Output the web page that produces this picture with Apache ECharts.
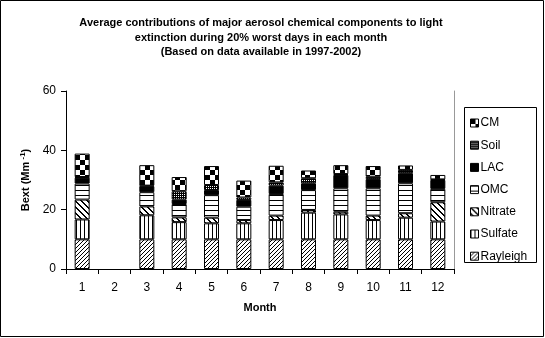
<!DOCTYPE html>
<html><head><meta charset="utf-8">
<script src="https://cdn.jsdelivr.net/npm/echarts@6/dist/echarts.min.js"></script>
<style>html,body{margin:0;padding:0;background:#fff}#c{width:545px;height:338px}</style>
</head><body><div id="c"></div>
<script>
const months = ['1','2','3','4','5','6','7','8','9','10','11','12'];
const yTicks = [0, 20, 40, 60];
const rayleigh = [10, '-', 10, 10, 10, 10, 10, 10, 10, 10, 10, 10];
const sulfate  = [6.7, '-', 8.1, 5.8, 5.4, 5.4, 6.5, 9.0, 8.4, 6.5, 7.3, 6.0];
const nitrate  = [6.7, '-', 3.0, 1.6, 1.9, 1.1, 1.5, 0.9, 0.9, 1.5, 1.5, 6.5];
const omc      = [5.4, '-', 4.8, 4.5, 7.6, 4.5, 7.3, 6.7, 7.9, 9.2, 10.1, 4.5];
const lac      = [2.0, '-', 2.0, 1.5, 1.7, 2.3, 2.8, 2.3, 4.5, 3.1, 3.4, 3.0];
const soil     = [0.2, '-', 0.2, 2.8, 1.7, 0.8, 1.1, 1.7, 0.3, 0.8, 1.1, 0.2];
const cm       = [7.9, '-', 6.9, 4.8, 6.4, 5.7, 5.6, 2.6, 3.0, 3.6, 1.5, 1.5];
const titleLines = [
  'Average contributions of major aerosol chemical components to light',
  'extinction during 20% worst days in each month',
  '(Based on data available in 1997-2002)'
];

function pat(size, draw) {
  const c = document.createElement('canvas');
  c.width = c.height = size;
  const g = c.getContext('2d');
  g.fillStyle = '#fff'; g.fillRect(0, 0, size, size);
  g.fillStyle = '#000';
  draw(g, size);
  return { image: c, repeat: 'repeat' };
}
const P = {
  Rayleigh: pat(4, (g, s) => { for (let i = 0; i < s; i++) g.fillRect(i, s - 1 - i, 1, 1); }),
  Sulfate: pat(4, (g, s) => { g.fillRect(0, 0, 1, s); }),
  Nitrate: pat(6, (g, s) => { for (let i = 0; i < s; i++) { g.fillRect(i, i, 1, 1); g.fillRect((i + 1) % s, i, 1, 1); } }),
  OMC: pat(5, (g, s) => { g.fillRect(0, 0, s, 1); }),
  LAC: '#000',
  Soil: pat(2, (g, s) => { g.fillRect(0, 0, 2, 2); g.fillStyle = '#fff'; g.fillRect(0, 0, 1, 1); }),
  CM: pat(10, (g, s) => { g.fillRect(0, 0, 5, 5); g.fillRect(5, 5, 5, 5); })
};
const seriesDefs = [
  ['Rayleigh', rayleigh], ['Sulfate', sulfate], ['Nitrate', nitrate], ['OMC', omc],
  ['LAC', lac], ['Soil', soil], ['CM', cm]
];
const font = 'Liberation Sans, Arial, sans-serif';
const chart = echarts.init(document.getElementById('c'), null, { renderer: 'canvas' });
chart.setOption({
  animation: false,
  backgroundColor: '#fff',
  grid: { left: 66, right: 91, top: 91, bottom: 69 },
  legend: {
    orient: 'vertical', left: 465, top: 111,
    data: ['CM', 'Soil', 'LAC', 'OMC', 'Nitrate', 'Sulfate', 'Rayleigh'],
    itemWidth: 8, itemHeight: 8, itemGap: 8.2,
    icon: 'rect',
    textStyle: { fontFamily: font, fontSize: 12, color: '#000', padding: [0, 0, 0, -3], lineHeight: 14 },
    itemStyle: { borderColor: '#000', borderWidth: 1 }
  },
  xAxis: {
    type: 'category', data: months,
    axisLine: { lineStyle: { color: '#000', width: 1 } },
    axisTick: { show: true, length: 5, lineStyle: { color: '#000' } },
    axisLabel: { fontFamily: font, fontSize: 12, color: '#000', margin: 13 },
    name: 'Month', nameLocation: 'middle', nameGap: 33,
    nameTextStyle: { fontFamily: font, fontSize: 11, fontWeight: 'bold', color: '#000' }
  },
  yAxis: [{
    type: 'value', min: 0, max: 60, interval: 20,
    axisLine: { show: true, lineStyle: { color: '#000' } },
    axisTick: { show: true, length: 5, lineStyle: { color: '#000' } },
    splitLine: { show: false },
    axisLabel: { fontFamily: font, fontSize: 12, color: '#000', margin: 10,
      formatter: v => yTicks.includes(v) ? String(v) : '' },
    name: '{a|Bext (Mm}{b| -1}{a|)}', nameLocation: 'middle', nameGap: 30, nameRotate: 90,
    nameTextStyle: { rich: {
      a: { fontFamily: font, fontSize: 11, fontWeight: 'bold', color: '#000' },
      b: { fontFamily: font, fontSize: 8, fontWeight: 'bold', color: '#000', padding: [0, 0, 6, 0] }
    } }
  }, {
    type: 'value', min: 0, max: 60, interval: 20, position: 'right',
    axisLine: { show: true, lineStyle: { color: '#999' } },
    axisTick: { show: false }, axisLabel: { show: false }, splitLine: { show: false }
  }],
  series: seriesDefs.map(([name, data]) => ({
    name, type: 'bar', stack: 'total', data, barWidth: 15,
    itemStyle: { color: P[name], borderColor: '#000', borderWidth: 1 }
  })),
  graphic: [
    { type: 'rect', shape: { x: 0.5, y: 0.5, width: 543, height: 336 }, style: { fill: 'none', stroke: '#000', lineWidth: 1 } },
    { type: 'rect', shape: { x: 464.5, y: 107.5, width: 72, height: 155 }, style: { fill: 'none', stroke: '#000', lineWidth: 1 } }
  ].concat(titleLines.map((t, i) => ({
    type: 'text', x: 261, y: 23 + i * 14.7,
    style: { text: t, textAlign: 'center', textVerticalAlign: 'middle',
      font: 'bold 11px ' + font, fill: '#000' }
  })))
});
</script></body></html>
